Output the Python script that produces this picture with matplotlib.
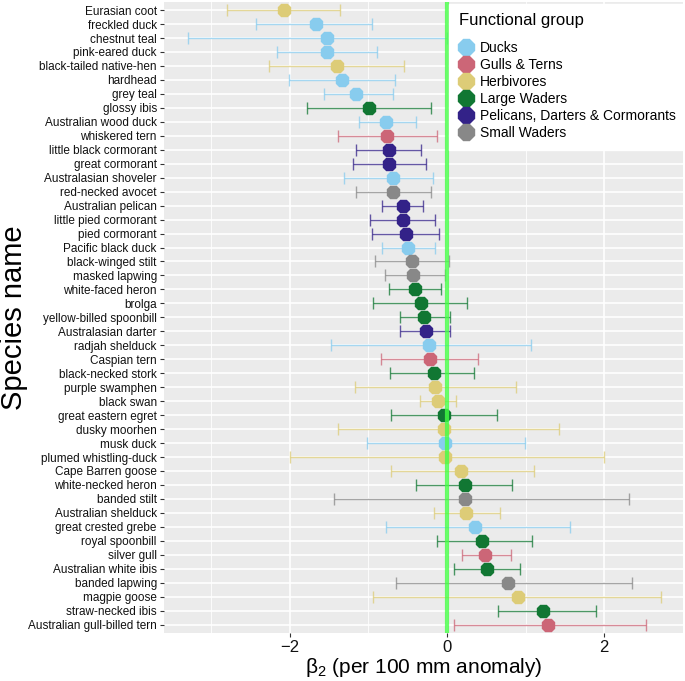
import numpy as np
import matplotlib.pyplot as plt
from matplotlib.lines import Line2D

plt.rcParams['font.family'] = ['Liberation Sans', 'DejaVu Sans']

species = ['Eurasian coot', 'freckled duck', 'chestnut teal', 'pink-eared duck',
           'black-tailed native-hen', 'hardhead', 'grey teal', 'glossy ibis',
           'Australian wood duck', 'whiskered tern', 'little black cormorant',
           'great cormorant', 'Australasian shoveler', 'red-necked avocet',
           'Australian pelican', 'little pied cormorant', 'pied cormorant',
           'Pacific black duck', 'black-winged stilt', 'masked lapwing',
           'white-faced heron', 'brolga', 'yellow-billed spoonbill',
           'Australasian darter', 'radjah shelduck', 'Caspian tern',
           'black-necked stork', 'purple swamphen', 'black swan',
           'great eastern egret', 'dusky moorhen', 'musk duck',
           'plumed whistling-duck', 'Cape Barren goose', 'white-necked heron',
           'banded stilt', 'Australian shelduck', 'great crested grebe',
           'royal spoonbill', 'silver gull', 'Australian white ibis',
           'banded lapwing', 'magpie goose', 'straw-necked ibis',
           'Australian gull-billed tern']

group = ['Herbivores', 'Ducks', 'Ducks', 'Ducks',
         'Herbivores', 'Ducks', 'Ducks', 'Large Waders',
         'Ducks', 'Gulls & Terns', 'Pelicans, Darters & Cormorants',
         'Pelicans, Darters & Cormorants', 'Ducks', 'Small Waders',
         'Pelicans, Darters & Cormorants', 'Pelicans, Darters & Cormorants',
         'Pelicans, Darters & Cormorants',
         'Ducks', 'Small Waders', 'Small Waders',
         'Large Waders', 'Large Waders', 'Large Waders',
         'Pelicans, Darters & Cormorants', 'Ducks', 'Gulls & Terns',
         'Large Waders', 'Herbivores', 'Herbivores',
         'Large Waders', 'Herbivores', 'Ducks',
         'Herbivores', 'Herbivores', 'Large Waders',
         'Small Waders', 'Herbivores', 'Ducks',
         'Large Waders', 'Gulls & Terns', 'Large Waders',
         'Small Waders', 'Herbivores', 'Large Waders',
         'Gulls & Terns']

est = [-2.07, -1.66, -1.53, -1.53, -1.40, -1.34, -1.15, -0.99, -0.77, -0.76,
       -0.74, -0.74, -0.69, -0.68, -0.56, -0.56, -0.52, -0.50, -0.45, -0.43,
       -0.41, -0.33, -0.29, -0.26, -0.23, -0.21, -0.17, -0.15, -0.11, -0.04,
       -0.04, -0.02, -0.02, 0.18, 0.23, 0.23, 0.24, 0.36, 0.45, 0.49,
       0.51, 0.77, 0.90, 1.22, 1.28]
lo = [-2.80, -2.43, -3.29, -2.16, -2.26, -2.01, -1.56, -1.78, -1.12, -1.38,
      -1.15, -1.20, -1.31, -1.15, -0.83, -0.98, -0.95, -0.82, -0.92, -0.79,
      -0.74, -0.94, -0.60, -0.60, -1.47, -0.84, -0.72, -1.17, -0.34, -0.71,
      -1.38, -1.01, -1.99, -0.71, -0.39, -1.43, -0.17, -0.78, -0.12, 0.19,
      0.09, -0.65, -0.94, 0.65, 0.09]
hi = [-1.36, -0.95, 0.00, -0.89, -0.54, -0.66, -0.68, -0.20, -0.39, -0.13,
      -0.33, -0.27, -0.18, -0.20, -0.30, -0.15, -0.10, -0.15, 0.02, -0.03,
      -0.07, 0.26, 0.04, 0.04, 1.07, 0.40, 0.35, 0.88, 0.12, 0.64,
      1.43, 0.99, 2.00, 1.11, 0.83, 2.31, 0.68, 1.56, 1.08, 0.81,
      0.93, 2.35, 2.72, 1.89, 2.53]

groups = ['Ducks', 'Gulls & Terns', 'Herbivores', 'Large Waders',
          'Pelicans, Darters & Cormorants', 'Small Waders']
colours = ['#88CCEE', '#CC6677', '#DDCC77', '#117733', '#332288', '#888888']
cmap = dict(zip(groups, colours))

fig = plt.figure(figsize=(6.85, 6.81), dpi=100)
ax = fig.add_axes([0.239, 0.0705, 0.758, 0.927])
ax.set_facecolor('#EBEBEB')

y = np.arange(len(species))
ax.set_xlim(-3.6, 3.0)
ax.set_ylim(len(species) - 0.4, -0.6)

for xv in [-3, -1, 1, 3]:
    ax.axvline(xv, color='white', lw=0.6, zorder=0)
for xv in [-2, 0, 2]:
    ax.axvline(xv, color='white', lw=1.2, zorder=0)
for yi in y:
    ax.axhline(yi, color='white', lw=1.2, zorder=0)

for i in range(len(species)):
    c = cmap[group[i]]
    ax.errorbar(est[i], y[i], xerr=[[est[i] - lo[i]], [hi[i] - est[i]]],
                fmt='none', ecolor=c, elinewidth=1.0, capsize=4.5, capthick=1.0,
                alpha=0.75, zorder=2)
    ax.plot(est[i], y[i], marker='8', ms=10, color=c, mec=c, ls='none', zorder=3)

ax.axvline(0, color='#44FF44', lw=3, alpha=0.8, zorder=4)

ax.set_xticks([-2, 0, 2])
ax.set_xticklabels(['\u22122', '0', '2'], fontsize=12, color='#111111')
ax.set_yticks(y)
ax.set_yticklabels(species, fontsize=8.5, color='#111111')
ax.tick_params(axis='both', length=3, color='#333333', width=0.8, pad=2)
for s in ax.spines.values():
    s.set_visible(False)

ax.set_xlabel(r'β$\mathregular{_2}$ (per 100 mm anomaly)', fontsize=15, labelpad=1)
ax.set_ylabel('Species name', fontsize=21)
ax.yaxis.set_label_coords(-0.262, 0.5)

handles = [Line2D([], [], marker='8', ms=13, color=c, ls='none') for c in colours]
leg = ax.legend(handles, groups, title='Functional group', loc='upper right',
                bbox_to_anchor=(1.005, 0.997), fontsize=10, title_fontsize=12,
                frameon=True, fancybox=False, handlelength=1.0, handletextpad=0.5,
                labelspacing=0.22, borderpad=0.7, borderaxespad=0)
leg.get_frame().set_edgecolor('white')
leg.get_frame().set_facecolor('white')
leg.get_frame().set_alpha(1.0)
leg._legend_box.align = 'left'
leg._legend_box.sep = 9

fig.savefig('out.png', dpi=100)
